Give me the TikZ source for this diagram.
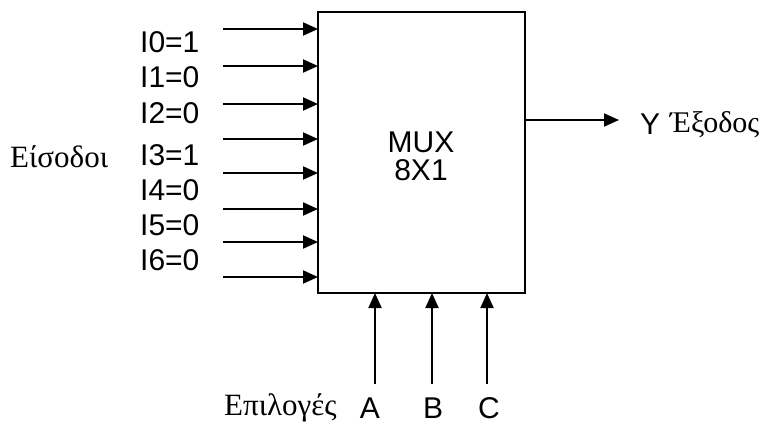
\documentclass[tikz,border=0pt]{standalone}
\usepackage{fontspec}
\setmainfont{Liberation Serif}
\newfontfamily\arial{Liberation Sans}
\usetikzlibrary{arrows.meta}
\begin{document}
\begin{tikzpicture}[x=1pt,y=-1pt,
  conn/.style={line width=2pt,-{Triangle[length=15pt,width=13pt]}},
  lab/.style={font=\arial\fontsize{30}{31}\selectfont,inner sep=0pt},
  glab/.style={font=\fontsize{31}{33}\selectfont,inner sep=0pt}]
\useasboundingbox (0,0) rectangle (779,426);
\node[draw,line width=1.5pt,minimum width=207pt,minimum height=281pt,inner sep=0pt] (mux) at (421.5,152.5) {};
\node[lab,align=center] (mt) at (421,156) {MUX\\[-3pt]8X1};
\foreach \i/\y in {0/29,1/66,2/104,3/139,4/173,5/209,6/242,7/277}{
  \coordinate (s\i) at (223,\y);
  \coordinate (e\i) at (318,\y);
  \draw[conn] (s\i) -- (e\i);
}
\foreach \i/\v/\y in {0/1/42,1/0/77,2/0/113,3/1/155,4/0/190,5/0/225,6/0/260}{
  \node[lab,anchor=west] (l\i) at (140,\y) {I\i=\v};
}
\node[glab,anchor=west] (in) at (10,157) {Είσοδοι};
\coordinate (o1) at (525,120);
\coordinate (o2) at (619,120);
\draw[conn] (o1) -- (o2);
\node[lab,anchor=west] (y) at (640,124) {Y};
\node[glab,anchor=west,font=\fontsize{30}{32}\selectfont] (out) at (670,125) {Έξοδος};
\foreach \n/\x/\lx in {A/375/370,B/432/433,C/487/489}{
  \coordinate (b\n) at (\x,384);
  \coordinate (t\n) at (\x,293);
  \draw[conn] (b\n) -- (t\n);
  \node[lab] (L\n) at (\lx,408) {\n};
}
\node[glab,anchor=west] (sel) at (224,408) {Επιλογές};
\end{tikzpicture}
\end{document}
